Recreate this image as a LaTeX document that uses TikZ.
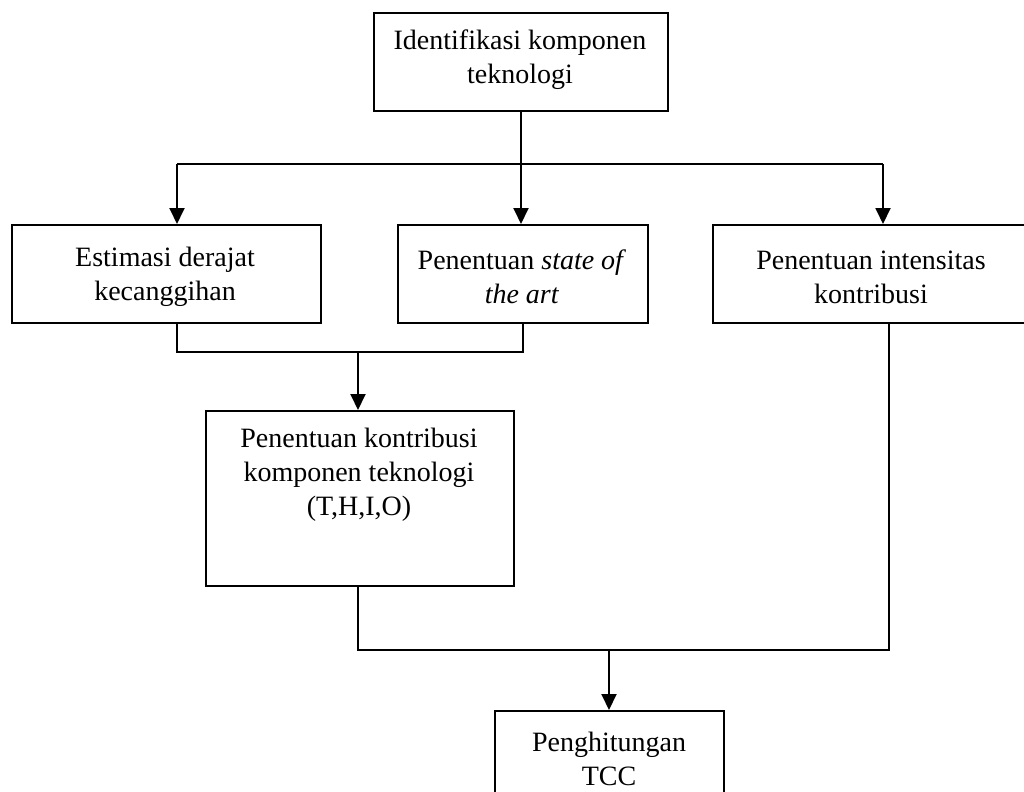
\documentclass[tikz,border=0pt]{standalone}
\usepackage{fontspec}
\setmainfont{Liberation Serif}
\usetikzlibrary{arrows.meta}
\begin{document}
\begin{tikzpicture}[x=1bp,y=-1bp,
  boxstyle/.style={draw,line width=1.9bp,inner sep=0pt,anchor=north west},
  lbl/.style={align=center,font=\fontsize{28bp}{34bp}\selectfont,inner sep=0pt},
  wire/.style={line width=1.9bp},
  arr/.style={wire,-{Triangle[width=15bp,length=16bp]}}]
\useasboundingbox (0,0) rectangle (1024,792);
\clip (0,0) rectangle (1024,792);
% boxes
\node[boxstyle,minimum width=294bp,minimum height=98bp] (b1) at (373,12) {};
\node[boxstyle,minimum width=309bp,minimum height=98bp] (b2) at (11,224) {};
\node[boxstyle,minimum width=250bp,minimum height=98bp] (b3) at (397,224) {};
\node[boxstyle,minimum width=320bp,minimum height=98bp] (b4) at (712,224) {};
\node[boxstyle,minimum width=308bp,minimum height=175bp] (b5) at (205,410) {};
\node[boxstyle,minimum width=229bp,minimum height=120bp] (b6) at (494,710) {};
% texts
\node[lbl] (t1) at (520,60) {Identifikasi komponen\\teknologi};
\node[lbl] (t2) at (165,277) {Estimasi derajat\\kecanggihan};
\node[lbl] (t3) at (522,277) {Penentuan \textit{state of}\\\textit{the art}};
\node[lbl] (t4) at (871,277) {Penentuan intensitas\\kontribusi};
\node[lbl] (t5) at (359,475) {Penentuan kontribusi\\komponen teknologi\\(T,H,I,O)};
\node[lbl] (t6) at (609,759) {Penghitungan\\TCC};
% connectors
\coordinate (j1) at (521,164);
\coordinate (jl) at (177,164);
\coordinate (jr) at (883,164);
\draw[wire] (j1 |- b1.south) -- (j1);
\draw[wire] (jl) -- (jr);
\draw[arr] (jl) -- (jl |- b2.north);
\draw[arr] (j1) -- (j1 |- b3.north);
\draw[arr] (jr) -- (jr |- b4.north);
\coordinate (m1) at (177,352);
\coordinate (m2) at (523,352);
\coordinate (m3) at (358,352);
\draw[wire] (m1 |- b2.south) -- (m1) -- (m2) -- (m2 |- b3.south);
\draw[arr] (m3) -- (m3 |- b5.north);
\coordinate (n1) at (358,650);
\coordinate (n2) at (889,650);
\coordinate (n3) at (609,650);
\draw[wire] (n1 |- b5.south) -- (n1) -- (n2) -- (n2 |- b4.south);
\draw[arr] (n3) -- (n3 |- b6.north);
\end{tikzpicture}
\end{document}
